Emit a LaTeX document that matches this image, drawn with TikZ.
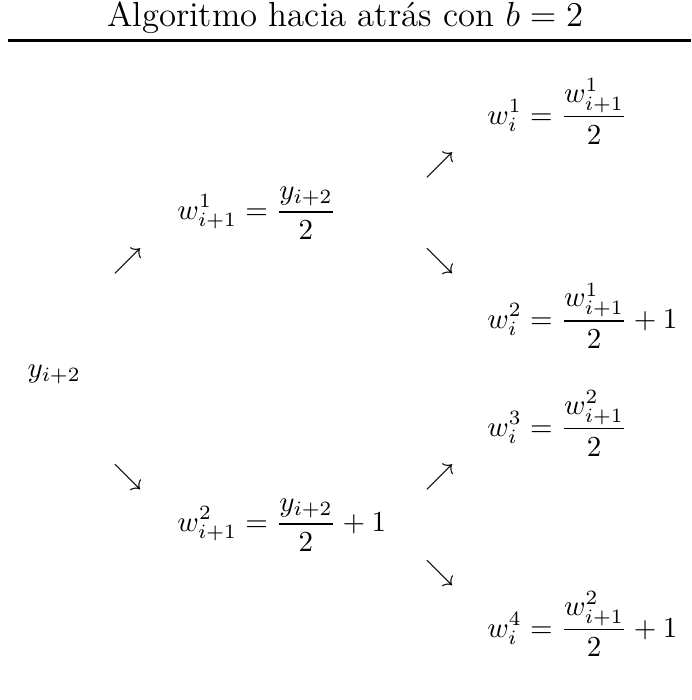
\documentclass[tikz,border=0pt]{standalone}
\usepackage{amsmath,amssymb}
\usepackage{tikz}

\begin{document}
\begin{tikzpicture}[
  x=1pt, y=1pt,
  eq/.style={anchor=base west, inner sep=0pt, font=\fontsize{10.4}{12.5}\selectfont},
  arr/.style={inner sep=0pt}]
  \useasboundingbox (0,0) rectangle (238.3,-241.4);
  \node[anchor=base, inner sep=0pt, font=\large] (title) at (119.0,-9.3) {Algoritmo hacia atr\'as con $b=2$};
  \coordinate (ruleL) at (2.8,-14.0);
  \coordinate (ruleR) at (238.3,-14.0);
  \draw[line width=0.8pt] (ruleL) -- (ruleR);
  % raiz
  \node[eq] (y) at (9.3,-130.2) {$y_{i+2}$};
  % primer nivel
  \node[eq] (wa1) at (61.0,-75.6) {$\displaystyle w_{i+1}^1=\frac{y_{i+2}}{2}$};
  \node[eq] (wa2) at (61.0,-183.2) {$\displaystyle w_{i+1}^2=\frac{y_{i+2}}{2}+1$};
  \node[arr] (up0) at (44.3,-90.0) {$\nearrow$};
  \node[arr] (dn0) at (44.3,-164.5) {$\searrow$};
  % segundo nivel
  \node[eq] (wb1) at (167.9,-42.8) {$\displaystyle w_i^1=\frac{w_{i+1}^1}{2}$};
  \node[eq] (wb2) at (167.9,-113.2) {$\displaystyle w_i^2=\frac{w_{i+1}^1}{2}+1$};
  \node[eq] (wb3) at (167.9,-150.4) {$\displaystyle w_i^3=\frac{w_{i+1}^2}{2}$};
  \node[eq] (wb4) at (167.9,-219.7) {$\displaystyle w_i^4=\frac{w_{i+1}^2}{2}+1$};
  \node[arr] (up1) at (151.7,-56.9) {$\nearrow$};
  \node[arr] (dn1) at (151.7,-90.0) {$\searrow$};
  \node[arr] (up2) at (151.7,-164.5) {$\nearrow$};
  \node[arr] (dn2) at (151.7,-197.6) {$\searrow$};
\end{tikzpicture}
\end{document}
